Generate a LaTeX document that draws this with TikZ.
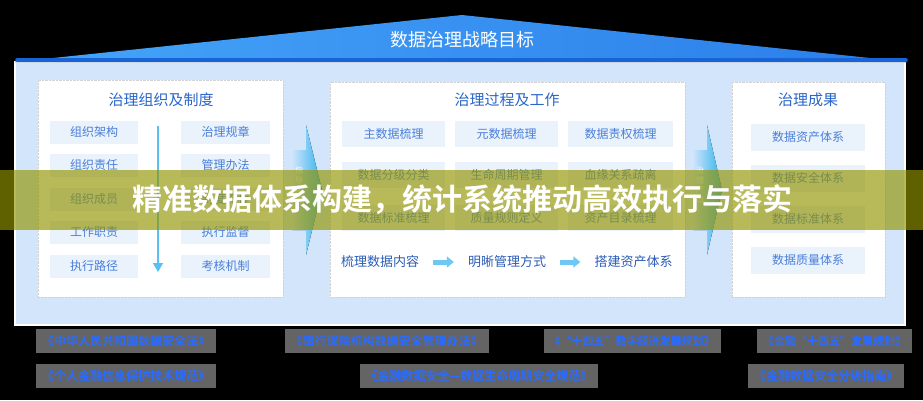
\documentclass[tikz,border=0pt]{standalone}
\usepackage{fontspec}
\setmainfont{Noto Sans CJK SC}[BoldFont={Noto Sans CJK SC Bold}]
\usepackage{xcolor}
\usetikzlibrary{positioning}
\usetikzlibrary{arrows.meta}
\definecolor{roofleft}{HTML}{45A5F8}
\definecolor{roofright}{HTML}{2B7DE9}
\definecolor{roofline}{HTML}{1763D8}
\definecolor{panelbg}{HTML}{D3E5FA}
\definecolor{itembg}{HTML}{EAF2FC}
\definecolor{itemtext}{HTML}{4A7FD8}
\definecolor{titletext}{HTML}{2A66C8}
\definecolor{flowtext}{HTML}{2B5CB5}
\definecolor{chevlight}{HTML}{CFE4FB}
\definecolor{chevblue}{HTML}{2FB2EE}
\definecolor{lawtext}{HTML}{2A6CFF}
\definecolor{lawbg}{HTML}{646464}
\definecolor{bannerolive}{HTML}{929400}
\tikzset{
    whitepanel/.style = {rectangle, draw=gray!35, densely dotted, fill=white, inner sep=0pt},
    paneltitle/.style = {text=titletext, font=\fontsize{15}{17}\selectfont},
    itembox/.style = {rectangle, fill=itembg, text=itemtext, inner sep=0pt, font=\fontsize{12}{14}\selectfont},
    flownode/.style = {text=flowtext, inner sep=2pt, font=\fontsize{13}{15}\selectfont},
    lawnode/.style = {rectangle, fill=lawbg, text=lawtext, inner xsep=6pt, minimum height=24pt, font=\fontsize{12}{14}\selectfont\bfseries},
}
\begin{document}
\begin{tikzpicture}[
	x=1pt, y=-1pt,
	chevtext/.style = {text=white, align=center, inner sep=0pt, font=\fontsize{8}{9.5}\selectfont},
	flowarrow/.style = {line width=5pt, draw=chevblue!70, -{Triangle[width=11pt,length=7pt]}, shorten <=12pt, shorten >=12pt},
]
\fill[black] (0,0) rectangle (923,400);
\useasboundingbox (0,0) rectangle (923,400);
%
\fill[panelbg, draw=white, line width=1.5pt] (15,62) rectangle (905,325);
\fill[left color=roofleft, right color=roofright] (15,62) -- (462,15) -- (908,62) -- cycle;
\draw[roofline, line width=3.5pt, line cap=round] (17,60) -- (906,60);
\node[text=white, font=\fontsize{18}{20}\selectfont] (goal) at (462,40) {数据治理战略目标};
%
\node[whitepanel, minimum width=245pt, minimum height=217pt] (orgpanel) at (160.5,188.5) {};
\node[paneltitle] (orgtitle) at (161,100) {治理组织及制度};
\node[itembox, minimum width=88pt, minimum height=23pt] (org1) at (94,132) {组织架构};
\node[itembox, minimum width=88pt, minimum height=23pt] (org2) at (94,165) {组织责任};
\node[itembox, minimum width=88pt, minimum height=23pt] (org3) at (94,199) {组织成员};
\node[itembox, minimum width=88pt, minimum height=23pt] (org4) at (94,232) {工作职责};
\node[itembox, minimum width=88pt, minimum height=23pt] (org5) at (94,266) {执行路径};
\node[itembox, minimum width=89pt, minimum height=23pt] (rule1) at (225.5,132) {治理规章};
\node[itembox, minimum width=89pt, minimum height=23pt] (rule2) at (225.5,165) {管理办法};
\node[itembox, minimum width=89pt, minimum height=23pt] (rule3) at (225.5,199) {制度流程};
\node[itembox, minimum width=89pt, minimum height=23pt] (rule4) at (225.5,232) {执行监督};
\node[itembox, minimum width=89pt, minimum height=23pt] (rule5) at (225.5,266) {考核机制};
\coordinate (orgtop) at (158,126);
\coordinate (orgbot) at (158,272);
\draw[chevblue!80, line width=1.5pt, -{Triangle[width=10pt,length=9pt]}] (orgtop) -- (orgbot);
%
\fill[left color=chevlight, right color=chevblue] (292,150) -- (306,150) -- (306,125) -- (322,190) -- (306,255) -- (306,230) -- (292,230) -- cycle;
\node[chevtext] (guide) at (299,185) {指\\导\\实\\施};
%
\node[whitepanel, minimum width=355pt, minimum height=215pt] (workpanel) at (507.5,189.5) {};
\node[paneltitle] (worktitle) at (507,100) {治理过程及工作};
\node[itembox, minimum width=103pt, minimum height=26pt] (work1) at (393.5,134) {主数据梳理};
\node[itembox, minimum width=103pt, minimum height=26pt] (work2) at (506.5,134) {元数据梳理};
\node[itembox, minimum width=105pt, minimum height=26pt] (work3) at (620.5,134) {数据责权梳理};
\node[itembox, minimum width=103pt, minimum height=26pt] (work4) at (393.5,175) {数据分级分类};
\node[itembox, minimum width=103pt, minimum height=26pt] (work5) at (506.5,175) {生命周期管理};
\node[itembox, minimum width=105pt, minimum height=26pt] (work6) at (620.5,175) {血缘关系疏离};
\node[itembox, minimum width=103pt, minimum height=26pt] (work7) at (393.5,218) {数据标准梳理};
\node[itembox, minimum width=103pt, minimum height=26pt] (work8) at (506.5,218) {质量规则定义};
\node[itembox, minimum width=105pt, minimum height=26pt] (work9) at (620.5,218) {资产目录梳理};
\node[flownode] (flow1) at (380,262) {梳理数据内容};
\node[flownode] (flow2) at (507,262) {明晰管理方式};
\node[flownode] (flow3) at (633.5,262) {搭建资产体系};
\draw[flowarrow] (flow1) -- (flow2);
\draw[flowarrow] (flow2) -- (flow3);
%
\fill[left color=chevlight, right color=chevblue] (693,150) -- (707,150) -- (707,125) -- (722,190) -- (707,255) -- (707,230) -- (693,230) -- cycle;
\node[chevtext] (result) at (700,185) {治\\理\\产\\出};
%
\node[whitepanel, minimum width=153pt, minimum height=215pt] (resultpanel) at (808.5,189.5) {};
\node[paneltitle] (resulttitle) at (808,100) {治理成果};
\node[itembox, minimum width=114pt, minimum height=27pt] (res1) at (808,137) {数据资产体系};
\node[itembox, minimum width=114pt, minimum height=27pt] (res2) at (808,178) {数据安全体系};
\node[itembox, minimum width=114pt, minimum height=27pt] (res3) at (808,219) {数据标准体系};
\node[itembox, minimum width=114pt, minimum height=27pt] (res4) at (808,260) {数据质量体系};
%
\fill[bannerolive, opacity=0.65] (0,170) rectangle (923,230);
\node[text=white, font=\fontsize{30}{32}\selectfont\bfseries] (banner) at (462,200) {精准数据体系构建，统计系统推动高效执行与落实};
%
\node[lawnode] (law1) at (126,341) {《中华人民共和国数据安全法》};
\node[lawnode] (law2) at (386.5,341) {《银行保险机构数据安全管理办法》};
\node[lawnode, font=\fontsize{11}{13}\selectfont\bfseries] (law3) at (632,341) {《“十四五”数字经济发展规划》};
\node[lawnode, font=\fontsize{11}{13}\selectfont\bfseries] (law4) at (834.5,341) {《金融“十四五”发展规划》};
\node[lawnode] (law5) at (126,376) {《个人金融信息保护技术规范》};
\node[lawnode] (law6) at (479,376) {《金融数据安全—数据生命周期安全规范》};
\node[lawnode] (law7) at (826,376) {《金融数据安全分级指南》};
\end{tikzpicture}
\end{document}
